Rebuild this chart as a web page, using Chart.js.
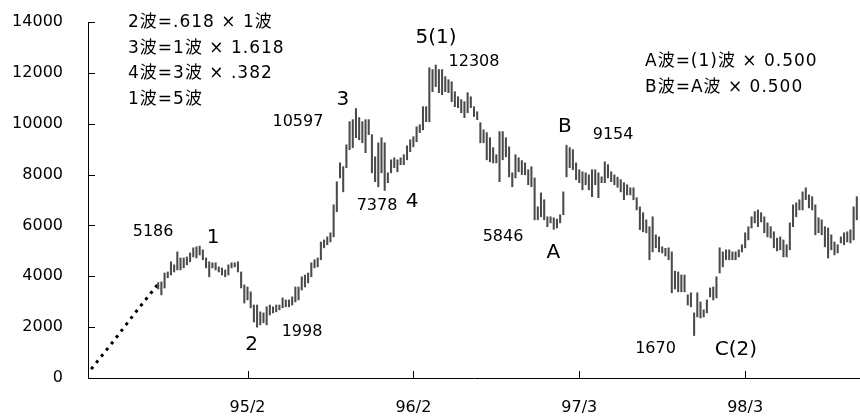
<!DOCTYPE html>
<html>
<head>
<meta charset="utf-8">
<script src="https://cdn.jsdelivr.net/npm/chart.js@4.4.1/dist/chart.umd.min.js"></script>
<style>
  html, body { margin: 0; padding: 0; background: #fff; }
  #wrap { width: 860px; height: 417px; }
</style>
</head>
<body>
<div id="wrap"><canvas id="wave"></canvas></div>
<script>
// 週足の高値・安値 (firstWeek 本目から)
var firstWeek = 22;
var weekLow = [
  3500, 3270, 3540, 3940, 4050, 4170, 4250, 4250, 4330, 4450,
  4570, 4760, 4720, 4840, 4650, 4330, 3980, 4330, 4250, 4170,
  4050, 3980, 4050, 4330, 4370, 4170, 3540, 2950, 3070, 2760,
  2200, 1998, 2090, 2170, 2090, 2480, 2560, 2600, 2680, 2760,
  2800, 2800, 2870, 2990, 3070, 3460, 3580, 3740, 3980, 4330,
  4370, 4650, 5120, 5240, 5350, 5550, 6540, 7870, 7320, 8270,
  8980, 9060, 9450, 9370, 9250, 8860, 9570, 8070, 7720, 7520,
  8070, 7378, 7680, 8070, 8270, 8110, 8390, 8390, 8580, 8900,
  9090, 9290, 9650, 9760, 10080, 10080, 11260, 11460, 11220, 11140,
  11260, 11220, 10870, 10670, 10630, 10430, 10240, 10430, 10630, 10280,
  10160, 9250, 9250, 8580, 8500, 8460, 8460, 7720, 8580, 8700,
  7910, 7520, 7870, 8110, 8000, 7990, 7600, 7520, 6220, 6220,
  6340, 6220, 5950, 6100, 5846, 5900, 6100, 6420, 7910, 8270,
  8190, 7800, 7680, 7400, 7600, 7400, 7130, 7600, 7090, 7680,
  7680, 7870, 7720, 7600, 7500, 7320, 7010, 7200, 7200, 7010,
  6610, 5830, 5750, 5710, 4650, 4960, 5120, 4960, 4920, 4800,
  4650, 3350, 3500, 3390, 3390, 3390, 2870, 2800, 1670, 2400,
  2360, 2400, 2560, 3190, 3070, 3150, 4130, 4370, 4650, 4650,
  4650, 4650, 4760, 4960, 5120, 5430, 5900, 6100, 5950, 6140,
  5710, 5550, 5510, 5120, 5000, 5040, 4760, 4760, 5040, 5950,
  6340, 6610, 6610, 7010, 6690, 6610, 5630, 5710, 5630, 5160,
  4720, 5040, 4840, 4920, 5310, 5240, 5350, 5310, 5430, 6220
];
var weekHigh = [
  3750, 3780, 4130, 4170, 4570, 4450, 4960, 4720, 4720, 4760,
  4920, 5120, 5160, 5186, 5040, 4720, 4570, 4530, 4530, 4370,
  4330, 4250, 4450, 4530, 4530, 4570, 4170, 3660, 3580, 3390,
  2870, 2870, 2600, 2560, 2800, 2870, 2800, 2870, 2870, 3150,
  3070, 3070, 3190, 3580, 3580, 3980, 4050, 4130, 4530, 4650,
  4720, 5350, 5430, 5550, 5710, 6810, 7720, 8460, 8310, 9170,
  10080, 10160, 10597, 10240, 10080, 10160, 10160, 9570, 8700, 9250,
  9450, 9250, 8070, 8580, 8660, 8580, 8660, 8780, 9130, 9370,
  9490, 9880, 9960, 10670, 10670, 12200, 12130, 12308, 12130, 12130,
  11850, 11730, 11650, 11260, 11060, 10950, 10870, 11220, 11060, 10670,
  10470, 10040, 9760, 9650, 9450, 9060, 8780, 9690, 9690, 9450,
  9090, 8070, 8780, 8660, 8550, 8460, 8190, 8310, 7870, 6730,
  7280, 7010, 6340, 6340, 6300, 6250, 6420, 7320, 9154, 9060,
  8980, 8460, 8190, 8110, 8070, 7990, 8190, 8190, 8070, 7910,
  8500, 8390, 8110, 7990, 7900, 7800, 7680, 7600, 7480, 7480,
  7090, 6730, 6500, 6220, 5950, 6340, 5630, 5550, 5160, 5100,
  5120, 4960, 4200, 4170, 4050, 4050, 3270, 3350, 2560, 3350,
  2990, 2680, 3070, 3540, 3580, 3980, 5120, 4960, 5040, 5040,
  4960, 4960, 5040, 5240, 5710, 5950, 6340, 6540, 6610, 6500,
  6340, 6100, 5950, 5750, 5500, 5550, 5430, 5240, 6100, 6810,
  6890, 7010, 7320, 7480, 7200, 7130, 6810, 6300, 6220, 5950,
  5900, 5630, 5350, 5240, 5550, 5710, 5750, 5830, 6730, 7130
];
// 棒足の前の点線部分
var leadWeeks = [1, 8, 15, 22];
var leadValues = [350, 1450, 2600, 3700];
// 目盛
var weekCount = 242;
var tickWeeks = [50, 102, 154, 206];
var tickLabels = ['95/2', '96/2', '97/3', '98/3'];
var yMax = 14000;
var yStep = 2000;

// 図中の書き込み (位置は週番号と値で指定)
var waveMarks = [
  { text: '5186', week: 20.4, value: 5750 },
  { text: '1', week: 39.2, value: 5510, big: true },
  { text: '2', week: 51.3, value: 1300, big: true },
  { text: '1998', week: 67.1, value: 1810 },
  { text: '3', week: 79.9, value: 10945, big: true },
  { text: '10597', week: 65.8, value: 10080 },
  { text: '7378', week: 90.6, value: 6770 },
  { text: '4', week: 101.6, value: 6930, big: true },
  { text: '5(1)', week: 109.1, value: 13390, big: true },
  { text: '12308', week: 121, value: 12440 },
  { text: '5846', week: 130.1, value: 5550 },
  { text: 'A', week: 145.9, value: 4920, big: true },
  { text: 'B', week: 149.5, value: 9880, big: true },
  { text: '9154', week: 164.6, value: 9570 },
  { text: '1670', week: 177.9, value: 1140 },
  { text: 'C(2)', week: 203.1, value: 1100, big: true }
];
var leftNotes = ['2波=.618 × 1波', '3波=1波 × 1.618', '4波=3波 × .382', '1波=5波'];
var rightNotes = ['A波=(1)波 × 0.500', 'B波=A波 × 0.500'];

var bars = weekLow.map(function (lo, k) {
  return { x: firstWeek + k, y: [lo, weekHigh[k]] };
});
var lead = leadWeeks.map(function (w, k) {
  return { x: w, y: leadValues[k] };
});

var jpFont = '17px "DejaVu Sans", "Noto Sans CJK JP", sans-serif';

// 目盛線は軸の内側に描く
var innerTicks = {
  id: 'innerTicks',
  afterDraw: function (chart) {
    var ctx = chart.ctx;
    var xs = chart.scales.x, ys = chart.scales.y, area = chart.chartArea;
    ctx.save();
    ctx.strokeStyle = '#000';
    ctx.lineWidth = 1;
    ctx.beginPath();
    tickWeeks.forEach(function (w) {
      var px = Math.round(xs.getPixelForValue(w)) + 0.5;
      ctx.moveTo(px, area.bottom);
      ctx.lineTo(px, area.bottom - 7);
    });
    ys.ticks.forEach(function (t) {
      var py = Math.round(ys.getPixelForValue(t.value)) + 0.5;
      ctx.moveTo(area.left, py);
      ctx.lineTo(area.left + 7, py);
    });
    ctx.stroke();
    ctx.restore();
  }
};

var notes = {
  id: 'notes',
  afterDatasetsDraw: function (chart) {
    var ctx = chart.ctx;
    var xs = chart.scales.x, ys = chart.scales.y, area = chart.chartArea;
    ctx.save();
    ctx.fillStyle = '#000';
    ctx.textAlign = 'center';
    ctx.textBaseline = 'middle';
    waveMarks.forEach(function (m) {
      ctx.font = m.big ? '20px "DejaVu Sans", sans-serif' : '16px "DejaVu Sans", sans-serif';
      ctx.fillText(m.text, xs.getPixelForValue(m.week), ys.getPixelForValue(m.value));
    });
    ctx.font = jpFont;
    ctx.textAlign = 'left';
    ctx.letterSpacing = '1px';
    leftNotes.forEach(function (s, i) {
      ctx.fillText(s, area.left + 40, area.top + 1 + i * 25.5);
    });
    rightNotes.forEach(function (s, i) {
      ctx.fillText(s, area.left + 557, area.top + 40 + i * 26);
    });
    ctx.restore();
  }
};

Chart.defaults.font.family = '"DejaVu Sans", sans-serif';
Chart.defaults.font.size = 16;
Chart.defaults.color = '#000';

new Chart(document.getElementById('wave'), {
  type: 'bar',
  data: {
    datasets: [{
      type: 'bar',
      data: bars,
      backgroundColor: '#4a4a4a',
      borderWidth: 0,
      barThickness: 1.4
    }, {
      type: 'line',
      data: lead,
      borderColor: '#000',
      borderWidth: 3,
      borderDash: [3, 5],
      pointRadius: 0,
      fill: false
    }]
  },
  options: {
    responsive: true,
    maintainAspectRatio: false,
    animation: false,
    layout: { padding: { top: 22, right: 0, left: 0, bottom: 0 } },
    plugins: { legend: { display: false }, tooltip: { enabled: false } },
    scales: {
      x: {
        type: 'linear',
        min: 0,
        max: weekCount,
        offset: false,
        grid: { display: false, drawTicks: false },
        border: { display: true, color: '#000', width: 1 },
        afterBuildTicks: function (scale) {
          scale.ticks = tickWeeks.map(function (w) { return { value: w }; });
        },
        ticks: {
          padding: 20,
          maxRotation: 0,
          callback: function (v) {
            var k = tickWeeks.indexOf(v);
            return k < 0 ? '' : tickLabels[k];
          }
        },
        afterFit: function (scale) { scale.height = 39; }
      },
      y: {
        min: 0,
        max: yMax,
        grid: { display: false, drawTicks: false },
        border: { display: true, color: '#000', width: 1 },
        ticks: {
          stepSize: yStep,
          padding: 25,
          callback: function (v) { return String(v); }
        },
        afterFit: function (scale) {
          scale.width = 88;
          scale.paddingTop = 0;
          scale.paddingBottom = 0;
        }
      }
    }
  },
  plugins: [innerTicks, notes]
});
</script>
</body>
</html>
